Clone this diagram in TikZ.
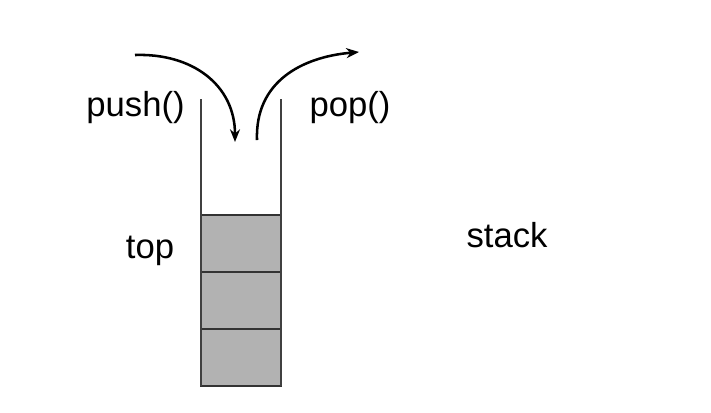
\documentclass[tikz,border=0pt]{standalone}
\usepackage{fontspec}
\setmainfont{Liberation Sans}
\usetikzlibrary{arrows.meta}
\usetikzlibrary{positioning}

\begin{document}
\begin{tikzpicture}[x=0.75pt, y=-0.75pt, thick, slot/.style = {draw=black!80, fill=black!30, line width=1.5pt, minimum width=60pt, minimum height=42.75pt, inner sep=0pt, outer sep=0pt}, lbl/.style = {font=\fontsize{26}{30}\selectfont, anchor=base, inner sep=0pt}, flow/.style = {line width=1.9pt, -{Stealth[length=9.5pt, width=7.5pt]}}]
            \useasboundingbox (0,0) rectangle (711,412);
            \node[slot] (s3) at (241,357) {};
            \node[slot] (s2) [above=0pt of s3] {};
            \node[slot] (s1) [above=0pt of s2] {};
            \coordinate (lw) at (201,99);
            \coordinate (rw) at (281,99);
            \draw[black!75, line width=1.3pt] (lw) -- (s3.south west);
            \draw[black!75, line width=1.3pt] (rw) -- (s3.south east);
            \node[lbl] (push) at (135.5,116) {push()};
            \node[lbl] (pop) at (350,116) {pop()};
            \node[lbl] (top) at (150,258) {top};
            \node[lbl] (stack) at (507,247) {stack};
            \coordinate (pushs) at (135,55);
            \coordinate (pushe) at (235,142);
            \coordinate (pops) at (257,140);
            \coordinate (pope) at (359,52);
            \draw[flow] (pushs) to[out=2, in=90, looseness=1.1] (pushe);
            \draw[flow] (pops) to[out=92, in=185, looseness=1.1] (pope);
        \end{tikzpicture}
\end{document}
